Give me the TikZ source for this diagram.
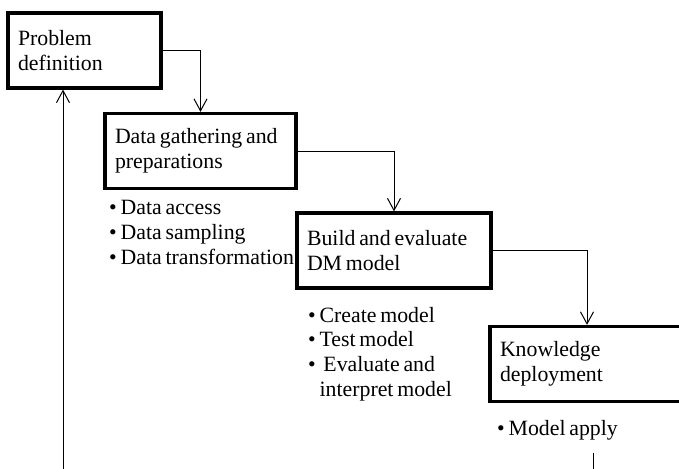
\documentclass[tikz,border=0pt]{standalone}
\usepackage{fontspec}
\setmainfont{Liberation Serif}[WordSpace=0.7]
\usetikzlibrary{arrows.meta}

\tikzset{
  stage/.style={draw, line width=3.2pt, rectangle, inner xsep=10pt, inner ysep=0pt, align=flush left, minimum height=75pt, font=\fontsize{21.8}{25}\selectfont},
  tasks/.style={anchor=north west, inner sep=0pt, align=left, font=\fontsize{21.8}{24.6}\selectfont},
  flow/.style={line width=1pt, -{Straight Barb[length=12pt,width=13pt]}}
}

\begin{document}
\begin{tikzpicture}[x=1pt,y=-1pt]
\useasboundingbox (0,0) rectangle (679,468);
\node[stage, text width=133pt] (problem) at (84.5,50.5) {Problem\\definition};
\node[stage, text width=171pt] (gather) at (200.5,151) {Data gathering and\\preparations};
\node[stage, text width=174pt] (build) at (394,250.5) {Build and evaluate\\DM model};
\node[stage, text width=174pt] (deploy) at (587,364) {Knowledge\\deployment};

\node[tasks] (gatherlist) at (109,200.5) {\textbullet\ Data access\\\textbullet\ Data sampling\\\textbullet\ Data transformation};
\node[tasks] (buildlist) at (308,307) {\textbullet\ Create model\\\textbullet\ Test model\\\textbullet\ \ Evaluate and\\\phantom{\textbullet\ }interpret model};
\node[tasks] (deploylist) at (497,420.5) {\textbullet\ Model apply};

\foreach \from/\to in {problem/gather,gather/build,build/deploy}
\draw[flow] (\from.east) -| (\to.north);

\coordinate (loopstart) at (63,470);
\draw[flow] (loopstart) -- (loopstart |- problem.south);
\coordinate (tailtop) at (593,453);
\coordinate (tailend) at (593,470);
\draw[line width=1pt] (tailtop) -- (tailend);
\end{tikzpicture}
\end{document}
